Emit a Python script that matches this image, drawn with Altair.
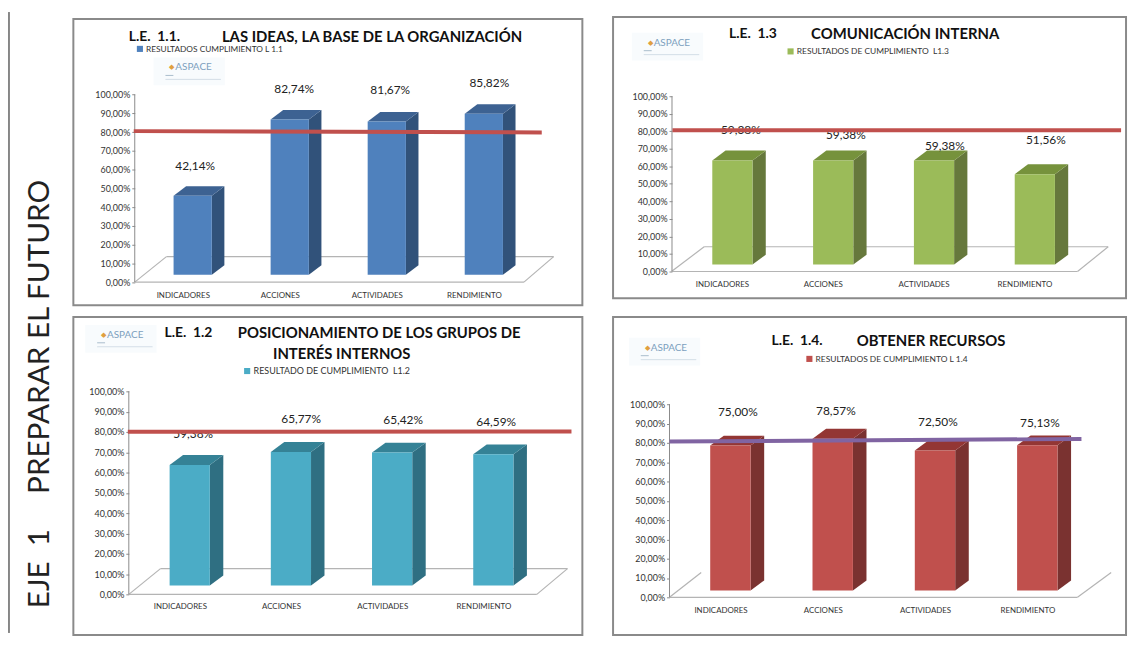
import altair as alt
import pandas as pd

categories = ["INDICADORES", "ACCIONES", "ACTIVIDADES", "RENDIMIENTO"]
values_11 = [42.14, 82.74, 81.67, 85.82]
values_13 = [59.38, 59.38, 59.38, 51.56]
values_12 = [59.38, 65.77, 65.42, 64.59]
values_14 = [75.00, 78.57, 72.50, 75.13]
target_11 = [80.5, 79.8]
target_13 = [80.6, 80.6]
target_12 = [80.1, 80.2]
target_14 = [80.7, 82.0]
ticks = [0, 10, 20, 30, 40, 50, 60, 70, 80, 90, 100]

FONT = "Lato"
GRAY = "#8a8a8a"


def spacer(w, h):
    return alt.Chart(pd.DataFrame({"a": [0]})).mark_rect(opacity=0).encode(
        x=alt.value(0), x2=alt.value(1), y=alt.value(0), y2=alt.value(1)
    ).properties(width=w, height=h)


def panel(p):
    L, R, T, B = p["box"]
    W, H = R - L, B - T
    c0, s, k, y0 = p["c0"], p["s"], p["k"], p["y0"]
    X = lambda px: (px - c0) / s
    Y = lambda py: (y0 - py) / k
    xs = alt.Scale(domain=[X(L), X(R)], nice=False, zero=False)
    ys = alt.Scale(domain=[Y(B), Y(T)], nice=False, zero=False)
    hw, dx, dy = p["hw"] / s, p["depth"] / s, p["depthy"] / k
    base = Y(p["base"])
    vals = p["values"]
    ax_fmt = "replace(format(datum.value,'.2f'),'.',',')+'%'"
    names = "[" + ",".join(f"'{c}'" for c in categories) + "]"
    xaxis = alt.Axis(
        values=[0, 1, 2, 3], labelExpr=names + "[datum.value]", title=None, grid=False,
        domain=False, ticks=False, labelFontSize=8, labelFont=FONT, labelColor="#333333",
        offset=-(B - p["cat_y"] + 4), labelPadding=0, labelOffset=p["cat_dx"],
        labelOverlap=False, labelFlush=False, labelAngle=0)
    yaxis = alt.Axis(
        values=ticks, labelExpr=ax_fmt, title=None, grid=False, domain=False,
        tickSize=3, tickColor=GRAY, labelFontSize=9, labelFont=FONT, labelColor="#333333",
        offset=-(p["axis_x"] - L), labelPadding=2, labelOverlap=False, labelFlush=False)
    ex = alt.X("x:Q", scale=xs, axis=xaxis)
    ey = alt.Y("y:Q", scale=ys, axis=yaxis)
    ey2 = alt.Y2("y2:Q")

    front = pd.DataFrame([
        {"x": i - hw, "x2": i + hw, "y": base, "y2": base + v, "serie": p["legend"]}
        for i, v in enumerate(vals)
    ])
    side, top = [], []
    for i, v in enumerate(vals):
        r, l = i + hw, i - hw
        side += [
            {"b": i, "x": r, "y": base, "y2": base + v},
            {"b": i, "x": r + dx, "y": base + dy, "y2": base + v + dy},
        ]
        t = base + v
        top += [
            {"b": i, "x": l, "y": t, "y2": t},
            {"b": i, "x": l + dx, "y": t, "y2": t + dy},
            {"b": i, "x": r, "y": t, "y2": t + dy},
            {"b": i, "x": r + dx, "y": t + dy, "y2": t + dy},
        ]

    fx0, fx1, bx0, bx1, by = p["floor"]
    seg = [
        ("l", fx0, 0), ("l", bx0, Y(by)),
        ("f", fx0, 0), ("f", fx1, 0),
        ("r", fx1, 0), ("r", bx1, Y(by)),
    ]
    if p.get("back", True):
        seg += [("k", bx0, Y(by)), ("k", bx1, Y(by))]
    floor = pd.DataFrame(
        [{"s": a, "x": X(b), "y": c, "o": i} for i, (a, b, c) in enumerate(seg)]
    )
    axis_x = X(p["axis_x"])

    box = alt.Chart(pd.DataFrame({"a": [0]})).mark_rect(
        fillOpacity=0, stroke=GRAY, strokeWidth=2
    ).encode(x=alt.value(0), x2=alt.value(W), y=alt.value(0), y2=alt.value(H))

    axis_line = alt.Chart(pd.DataFrame({"x": [axis_x], "y": [0], "y2": [100]})).mark_rule(
        color=GRAY, strokeWidth=1
    ).encode(x=ex, y=ey, y2=ey2)
    floor_l = alt.Chart(floor).mark_line(color="#b4b4b4", strokeWidth=1.2).encode(
        x=ex, y=ey, detail="s:N", order="o:Q"
    )
    side_l = alt.Chart(pd.DataFrame(side)).mark_area(color=p["side"], opacity=1).encode(
        x=ex, y=ey, y2=ey2, detail="b:N"
    )
    top_l = alt.Chart(pd.DataFrame(top)).mark_area(color=p["top"], opacity=1).encode(
        x=ex, y=ey, y2=ey2, detail="b:N"
    )
    lx, ly = p["legend_pos"]
    front_l = alt.Chart(front).mark_bar().encode(
        x=ex, x2="x2:Q", y=ey, y2=ey2,
        color=alt.Color("serie:N", scale=alt.Scale(domain=[p["legend"]], range=[p["color"]]),
                        legend=alt.Legend(orient="none", legendX=lx - L - 2, legendY=ly - T - 5,
                                          title=None, symbolType="square", symbolSize=38,
                                          labelFontSize=p["legend_size"], labelFont=FONT,
                                          labelColor="#333333",
                                          labelOffset=2, padding=0, labelLimit=300)),
    )
    labels = pd.DataFrame([
        {"x": X(px), "y": Y(py), "t": f"{v:.2f}".replace(".", ",") + "%"}
        for v, (px, py) in zip(vals, p["label_pos"])
    ])
    labels_l = alt.Chart(labels).mark_text(
        fontSize=12, font=FONT, color="#222222", align="center", baseline="middle"
    ).encode(x=ex, y=ey, text="t:N")
    lx0, lx1 = p["line_x"]
    line_l = alt.Chart(pd.DataFrame({"x": [X(lx0), X(lx1)], "y": p["target"]})).mark_line(
        color=p["line_color"], strokeWidth=4
    ).encode(x=ex, y=ey)

    def free_text(txt, px, py, **kw):
        return alt.Chart(pd.DataFrame({"t": [txt]})).mark_text(
            baseline="middle", font=FONT, **kw
        ).encode(x=alt.value(px - L), y=alt.value(py - T), text="t:N")

    titles = [
        free_text(t, px, py, fontSize=fs, fontWeight="bold", color="#111111", align=a)
        for t, px, py, a, fs in p["titles"]
    ]
    gx, gy = p["logo"]
    logo = [
        alt.Chart(pd.DataFrame({"a": [0]})).mark_rect(fill="#f8fbfd").encode(
            x=alt.value(gx - 22 - L), x2=alt.value(gx + 50 - L),
            y=alt.value(gy - 10 - T), y2=alt.value(gy + 18 - T)),
        free_text("ASPACE", gx, gy, fontSize=10, color="#7c9fbd", align="left"),
        free_text("\u25c6", gx - 6, gy, fontSize=7, color="#e0a040", align="left"),
        alt.Chart(pd.DataFrame({"a": [0]})).mark_rule(color="#d3dee7", strokeWidth=1).encode(
            x=alt.value(gx - 10 - L), x2=alt.value(gx + 46 - L), y=alt.value(gy + 12 - T)),
        alt.Chart(pd.DataFrame({"a": [0]})).mark_rule(color="#a9bccb", strokeWidth=1).encode(
            x=alt.value(gx - 10 - L), x2=alt.value(gx - 2 - L), y=alt.value(gy + 8 - T)),
    ]
    return alt.layer(
        box, *logo, floor_l, axis_line, side_l, top_l, front_l, labels_l, *titles, line_l
    ).properties(width=W, height=H)


p11 = dict(
    box=(72, 586, 16, 305), c0=192.5, s=98, k=1.894, y0=281.7, hw=19.3, depth=12.7, depthy=9.6,
    base=274.3, values=values_11, target=target_11, line_x=(133, 545), line_color="#c0504d",
    floor=(134, 527, 166, 557, 256), axis_x=134, cat_y=295, cat_dx=-10,
    color="#4f81bd", side="#31527a", top="#3d6292",
    legend="RESULTADOS CUMPLIMIENTO L 1.1", legend_pos=(137, 47), legend_size=8.4,
    label_pos=[(195, 164), (295, 87), (392, 88), (492, 81)],
    titles=[("L.E.\u00a0\u00a01.1.", 128, 34, "left", 14),
            ("LAS IDEAS, LA BASE DE LA ORGANIZACIÓN", 222, 34, "left", 15)],
    logo=(175, 65),
)
p13 = dict(
    box=(614, 1132, 14, 298), c0=734.5, s=101.8, k=1.77, y0=271, hw=20.3, depth=13.4, depthy=10,
    base=264, values=values_13, target=target_13, line_x=(674, 1127), line_color="#c0504d",
    floor=(673, 1083, 706, 1114, 246), axis_x=673.5, cat_y=284, cat_dx=-10.5,
    color="#9bbb59", side="#66783c", top="#76923c",
    legend="RESULTADOS DE CUMPLIMIENTO\u00a0\u00a0L1.3", legend_pos=(791, 49.5), legend_size=8.5,
    label_pos=[(743, 127.7), (849, 133), (949, 144), (1051, 138)],
    titles=[("L.E.\u00a0\u00a01.3", 731, 31, "left", 14),
            ("COMUNICACIÓN INTERNA", 814, 31, "left", 15)],
    logo=(655, 40),
)
p12 = dict(
    box=(72, 586, 316, 637), c0=189.5, s=102.2, k=2.05, y0=596, hw=20.3, depth=13.6, depthy=10,
    base=587, values=values_12, target=target_12, line_x=(127, 575), line_color="#c0504d",
    floor=(128, 540, 160, 571, 570), axis_x=128, cat_y=608, cat_dx=-10,
    color="#4bacc6", side="#2f6f82", top="#358296",
    legend="RESULTADO DE CUMPLIMIENTO\u00a0\u00a0L1.2", legend_pos=(245, 371), legend_size=9,
    label_pos=[(193, 434), (302, 419), (405, 420), (499, 422)],
    titles=[("L.E.\u00a0\u00a01.2", 164, 332, "left", 14),
            ("POSICIONAMIENTO DE LOS GRUPOS DE", 238, 332, "left", 15),
            ("INTERÉS INTERNOS", 343, 353, "center", 15)],
    logo=(106, 334),
)
p14 = dict(
    box=(614, 1132, 316, 637), c0=732.5, s=103.3, k=1.95, y0=599, hw=20.4, depth=13.7, depthy=10,
    base=592, values=values_14, target=target_14, line_x=(671, 1087), line_color="#8064a2",
    floor=(671, 1083, 703, 1117, 574), back=False, axis_x=671, cat_y=612, cat_dx=-10,
    color="#c0504d", side="#7a3230", top="#933634",
    legend="RESULTADOS DE CUMPLIMIENTO L 1.4", legend_pos=(810, 359), legend_size=8.5,
    label_pos=[(740, 412), (839, 411), (942, 422), (1045, 423)],
    titles=[("L.E.\u00a0\u00a01.4.", 774, 340, "left", 14),
            ("OBTENER RECURSOS", 860, 340, "left", 15)],
    logo=(652, 347),
)

side_h = 627
rule = alt.Chart(pd.DataFrame({"a": [0]})).mark_rule(color="#111111", strokeWidth=1).encode(
    x=alt.value(0), y=alt.value(0), y2=alt.value(side_h)
)
eje = alt.Chart(pd.DataFrame({"t": ["EJE\u00a0\u00a01"]})).mark_text(
    angle=270, fontSize=30, font=FONT, color="#222222", align="center", baseline="middle"
).encode(x=alt.value(31), y=alt.value(562), text="t:N")
prep = alt.Chart(pd.DataFrame({"t": ["PREPARAR EL FUTURO"]})).mark_text(
    angle=270, fontSize=30, font=FONT, color="#222222", align="center", baseline="middle"
).encode(x=alt.value(31), y=alt.value(328), text="t:N")
left = alt.layer(rule, eje, prep).properties(width=64, height=side_h)

col1 = alt.vconcat(spacer(514, 7), panel(p11), spacer(514, 12), panel(p12), spacing=0,
                   bounds="flush").resolve_scale(color="independent")
col2 = alt.vconcat(spacer(518, 5), panel(p13), spacer(518, 19), panel(p14), spacing=0,
                   bounds="flush").resolve_scale(color="independent")
chart = alt.hconcat(left, col1, spacer(29, 10), col2, spacing=0).resolve_scale(
    color="independent"
).properties(
    padding=0, background="white"
).configure_view(stroke=None).configure_concat(spacing=0)

chart.save("out.html", embed_options={"renderer": "svg", "actions": False})
